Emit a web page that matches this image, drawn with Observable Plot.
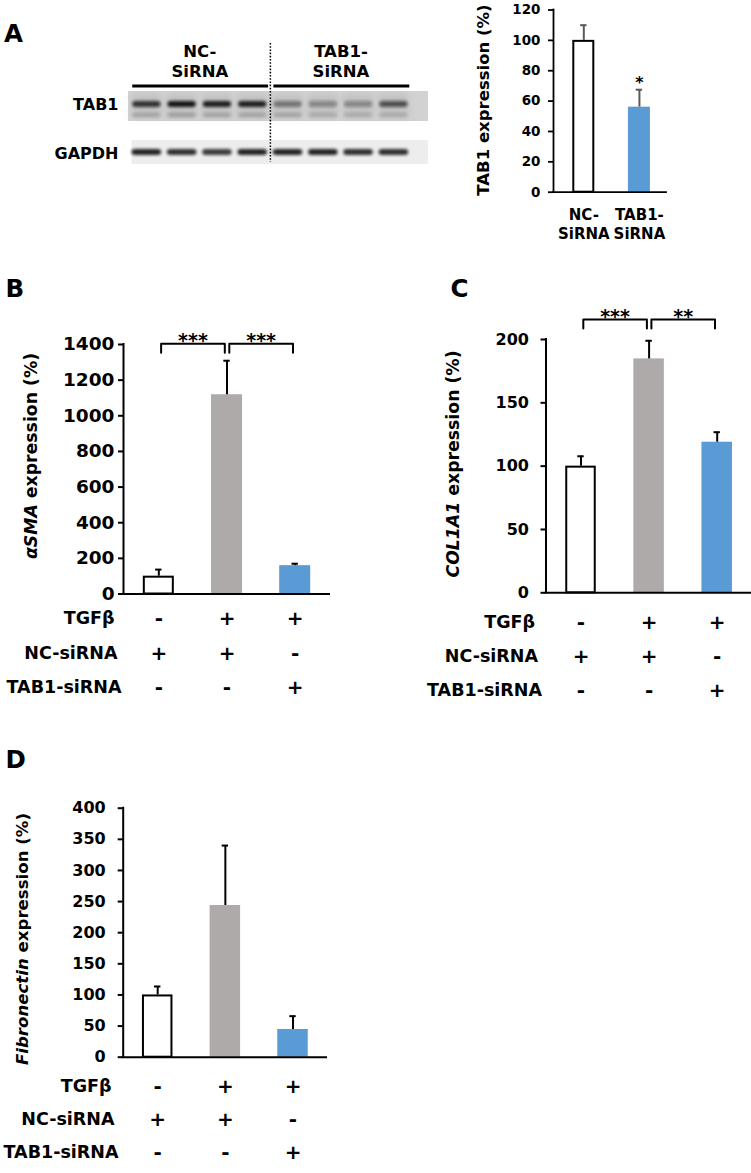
<!DOCTYPE html>
<html>
<head>
<meta charset="utf-8">
<script src="https://cdn.jsdelivr.net/npm/d3@7"></script>
<script src="https://cdn.jsdelivr.net/npm/@observablehq/plot@0.6"></script>
<style>
  html, body { margin: 0; padding: 0; background: #fff; }
  #fig { position: relative; width: 751px; height: 1173px; overflow: hidden; background: #fff; }
  #fig svg { position: absolute; }
</style>
</head>
<body>
<div id="fig"></div>
<script>
// ---------------- DATA ----------------
// Treatment design (panels B, C, D)
const rowLabels = ["TGFβ", "NC-siRNA", "TAB1-siRNA"];
const tgfb      = ["-", "+", "+"];
const ncSirna   = ["+", "+", "-"];
const tab1Sirna = ["-", "-", "+"];

// Panel A, bar chart
const tab1Groups = ["NC-\nSiRNA", "TAB1-\nSiRNA"];
const tab1Mean = [100, 56];
const tab1Err  = [10, 11.5];
const tab1Sig  = [{i: 1, label: "*"}];
const tab1Ticks = [0, 20, 40, 60, 80, 100, 120];

// Panel B, alpha-SMA
const asmaMean = [100, 1118, 159];
const asmaErr  = [37, 191, 11];
const asmaSig  = [{a: 0, b: 1, label: "***"}, {a: 1, b: 2, label: "***"}];
const asmaTicks = [0, 200, 400, 600, 800, 1000, 1200, 1400];

// Panel C, COL1A1
const colMean = [100, 184.7, 118.9];
const colErr  = [7.8, 14.3, 7.9];
const colSig  = [{a: 0, b: 1, label: "***"}, {a: 1, b: 2, label: "**"}];
const colTicks = [0, 50, 100, 150, 200];

// Panel D, Fibronectin
const fnMean = [100, 243.7, 44.5];
const fnErr  = [13.6, 96.3, 21.4];
const fnTicks = [0, 50, 100, 150, 200, 250, 300, 350, 400];

// Panel A, western blot (relative band intensities, 8 lanes)
const lanes = [0, 1, 2, 3, 4, 5, 6, 7];
const laneGroups = [
  {name: "NC-\nSiRNA", first: 0, last: 3},
  {name: "TAB1-\nSiRNA", first: 4, last: 7}
];
const tab1Band  = [0.80, 0.95, 0.90, 0.90, 0.45, 0.35, 0.35, 0.65];
const tab1Lower = [0.22, 0.25, 0.22, 0.22, 0.22, 0.18, 0.18, 0.18];
const gapdhBand = [0.90, 0.85, 0.80, 0.90, 0.90, 0.90, 0.85, 0.85];
const blotRows = ["TAB1", "GAPDH"];

// ---------------- STYLE ----------------
const FONT = "'DejaVu Sans', 'Liberation Sans', sans-serif";
const fills3 = ["#ffffff", "#aeaaaa", "#5b9bd5"];
const fills2 = ["#ffffff", "#5b9bd5"];

const fig = document.getElementById("fig");
function place(svg, left, top) {
  svg.style.left = left + "px";
  svg.style.top = top + "px";
  svg.style.maxWidth = "none";
  fig.appendChild(svg);
  return svg;
}

// ---------------- BAR PANEL ----------------
function barPanel(cfg) {
  const {means, errs, fills, width, height, marginLeft, marginRight, marginTop, marginBottom,
         xDomain, yMax, ticks, barWidth, tickFont, tickSize, tickPadding, axisWidth, errColor} = cfg;
  const data = means.map((v, i) => ({i, v, e: errs[i]}));
  const plotW = width - marginLeft - marginRight;
  const plotH = height - marginTop - marginBottom;
  const step = plotW / (xDomain[1] - xDomain[0]);
  const inset = (step - barWidth) / 2;
  const cap = 3.2 / step;
  const marks = [
    Plot.rect(data, {x1: d => d.i - 0.5, x2: d => d.i + 0.5, y1: () => 0, y2: "v",
      insetLeft: inset, insetRight: inset, fill: d => fills[d.i]}),
    Plot.rect(data.filter(d => fills[d.i] === "#ffffff"), {x1: d => d.i - 0.5, x2: d => d.i + 0.5, y1: () => 0, y2: "v",
      insetLeft: inset + 1, insetRight: inset + 1, insetTop: 1, fill: "none", stroke: "black", strokeWidth: 2}),
    Plot.ruleX(data, {x: "i", y1: "v", y2: d => d.v + d.e, stroke: errColor, strokeWidth: 2}),
    Plot.ruleY(data, {y: d => d.v + d.e, x1: d => d.i - cap, x2: d => d.i + cap, stroke: errColor, strokeWidth: 2}),
    Plot.ruleX([xDomain[0]], {y1: () => 0, y2: () => yMax, stroke: "black", strokeWidth: axisWidth, strokeLinecap: "square"}),
    Plot.ruleY([0], {stroke: "black", strokeWidth: axisWidth, strokeLinecap: "square"}),
    Plot.axisY({ticks, tickSize, tickPadding, tickFormat: d => String(d), label: null,
      fontSize: tickFont, fontWeight: "bold", strokeWidth: axisWidth})
  ];
  // significance brackets
  if (cfg.stats) {
    const drop = 9 * yMax / plotH;
    const gs = 2.3 / step, ge = 2.2 / step;
    for (const s of cfg.stats) {
      const pts = [[s.a + gs, cfg.bracketY - drop], [s.a + gs, cfg.bracketY], [s.b - ge, cfg.bracketY], [s.b - ge, cfg.bracketY - drop]];
      marks.push(Plot.line(pts, {x: d => d[0], y: d => d[1], stroke: "black", strokeWidth: 2}));
    }
    marks.push(Plot.text(cfg.stats, {x: s => (s.a + s.b) / 2, y: () => cfg.bracketY, text: "label",
      dy: cfg.starDy, fontSize: 19, fontWeight: "bold"}));
  }
  if (cfg.barStars) {
    marks.push(Plot.text(cfg.barStars, {x: "i", y: s => data[s.i].v + data[s.i].e, text: "label",
      dy: -7, fontSize: 16, fontWeight: "bold"}));
  }
  // treatment table below the axis
  if (cfg.rowsDy) {
    [tgfb, ncSirna, tab1Sirna].forEach((row, r) => {
      marks.push(Plot.text(row.map((s, i) => ({i, s})), {x: "i", text: "s", frameAnchor: "bottom", lineAnchor: "middle",
        dy: cfg.rowsDy[r], fontSize: 20, fontWeight: "bold"}));
      marks.push(Plot.text([rowLabels[r]], {text: d => d, frameAnchor: "bottom-left", lineAnchor: "middle", textAnchor: "end",
        dx: cfg.rowDx + [-7, -4, 0][r], dy: cfg.rowsDy[r], fontSize: 17.5, fontWeight: "bold"}));
    });
  }
  if (cfg.xLabels) {
    marks.push(Plot.text(cfg.xLabels.map((t, i) => ({i, t})), {x: "i", text: "t", frameAnchor: "bottom", lineAnchor: "middle",
      dy: cfg.xLabelDy, fontSize: 15, fontWeight: "bold", lineHeight: 1.27}));
  }
  return Plot.plot({
    width, height, marginLeft, marginRight, marginTop, marginBottom,
    x: {domain: xDomain, axis: null},
    y: {domain: [0, yMax], axis: null},
    style: {background: "transparent", color: "black", fontFamily: FONT, fontWeight: "bold", overflow: "visible"},
    marks
  });
}

// Panel A bar chart
place(barPanel({
  means: tab1Mean, errs: tab1Err, fills: fills2,
  width: 231, height: 250, marginLeft: 113, marginRight: 5, marginTop: 9.5, marginBottom: 58.3,
  xDomain: [-0.545, 1.487], yMax: 120, ticks: tab1Ticks, barWidth: 22,
  tickFont: 13.5, tickSize: 5, tickPadding: 8, axisWidth: 1.8, errColor: "#5a5a5a",
  barStars: tab1Sig, xLabels: tab1Groups, xLabelDy: 31
}), 440, 0);

// Panel B
place(barPanel({
  means: asmaMean, errs: asmaErr, fills: fills3,
  width: 345, height: 410, marginLeft: 123, marginRight: 16, marginTop: 44, marginBottom: 116.5,
  xDomain: [-0.518, 2.503], yMax: 1400, ticks: asmaTicks, barWidth: 31,
  tickFont: 18.5, tickSize: 5, tickPadding: 4, axisWidth: 2, errColor: "black",
  stats: asmaSig, bracketY: 1404, starDy: -2.4,
  rowsDy: [24.7, 59.7, 93.7], rowDx: -2
}), 0, 300);

// Panel C
place(barPanel({
  means: colMean, errs: colErr, fills: fills3,
  width: 371, height: 415, marginLeft: 165.5, marginRight: 1, marginTop: 44, marginBottom: 117.7,
  xDomain: [-0.514, 2.489], yMax: 200, ticks: colTicks, barWidth: 30.5,
  tickFont: 16, tickSize: 5, tickPadding: 12, axisWidth: 2, errColor: "black",
  stats: colSig, bracketY: 215.8, starDy: -2.4,
  rowsDy: [29.4, 63.7, 97.7], rowDx: -4
}), 380, 295);

// Panel D
place(barPanel({
  means: fnMean, errs: fnErr, fills: fills3,
  width: 345, height: 383, marginLeft: 122.7, marginRight: 19, marginTop: 17.7, marginBottom: 116.3,
  xDomain: [-0.51, 2.495], yMax: 400, ticks: fnTicks, barWidth: 30.5,
  tickFont: 16, tickSize: 5, tickPadding: 12.5, axisWidth: 2, errColor: "black",
  rowsDy: [29.3, 62.6, 95], rowDx: -4.7
}), 0, 790);

// ---------------- WESTERN BLOT ----------------
const laneData = lanes.map((l, k) => ({lane: l, tab1: tab1Band[k], low: tab1Lower[k], gapdh: gapdhBand[k]}));
const blotX = [-0.52, 7.98];
const blot = Plot.plot({
  width: 330, height: 175, marginLeft: 28, marginRight: 2, marginTop: 90.5, marginBottom: 5.5,
  x: {domain: blotX, axis: null},
  y: {domain: blotRows, axis: null, paddingInner: 0.388, paddingOuter: 0},
  style: {background: "transparent", color: "black", fontFamily: FONT, fontWeight: "bold", overflow: "visible"},
  marks: [
    // membrane strips
    Plot.barX(["TAB1"], {x1: () => blotX[0], x2: () => blotX[1], y: d => d, fill: "#d2d2d2"}),
    Plot.barX(["GAPDH"], {x1: () => blotX[0] + 0.1, x2: () => blotX[1], y: d => d, insetBottom: 6, fill: "#ededed"}),
    // lane smudges
    Plot.barX(laneData, {x1: d => d.lane - 0.42, x2: d => d.lane + 0.42, y: () => "TAB1", insetTop: 3, insetBottom: 3,
      fill: "#8a8a8a", fillOpacity: 0.22, ariaLabel: () => "blot-smudge"}),
    // bands
    Plot.barX(laneData, {x1: d => d.lane - 0.4, x2: d => d.lane + 0.4, y: () => "TAB1", insetTop: 10, insetBottom: 14,
      fill: "#111", fillOpacity: d => d.tab1, rx: 3, ariaLabel: () => "blot-band"}),
    Plot.barX(laneData, {x1: d => d.lane - 0.4, x2: d => d.lane + 0.4, y: () => "TAB1", insetTop: 22, insetBottom: 4,
      fill: "#222", fillOpacity: d => d.low, rx: 2, ariaLabel: () => "blot-band"}),
    Plot.barX(laneData, {x1: d => d.lane - 0.42, x2: d => d.lane + 0.42, y: () => "GAPDH", insetTop: 9, insetBottom: 15,
      fill: "#111", fillOpacity: d => d.gapdh, rx: 3.5, ariaLabel: () => "blot-band"}),
    // separator between groups
    Plot.ruleX([(laneGroups[0].last + laneGroups[1].first) / 2], {stroke: "black", strokeWidth: 1.5,
      strokeDasharray: "1.6,1.6", insetTop: -47.5, insetBottom: 7.5}),
    // group header
    Plot.ruleY(laneGroups, {y: () => "TAB1", x1: g => g.first - 0.4, x2: g => g.last + 0.45, dy: -20.5,
      stroke: "black", strokeWidth: 3}),
    Plot.text(laneGroups, {x: g => (g.first + g.last) / 2, y: () => "TAB1", text: "name", dy: -45.5,
      fontSize: 16.5, fontWeight: "bold", lineHeight: 1.2}),
    // row labels
    Plot.text(blotRows, {y: d => d, text: d => d, frameAnchor: "left", textAnchor: "end", dx: -10,
      dy: -1.5, fontSize: 16, fontWeight: "bold"})
  ]
});
place(blot, 100, 0);
{
  const s = d3.select(blot);
  const defs = s.insert("defs", ":first-child");
  defs.append("filter").attr("id", "blotblur")
    .attr("filterUnits", "userSpaceOnUse").attr("x", 0).attr("y", 0).attr("width", 330).attr("height", 175)
    .append("feGaussianBlur").attr("stdDeviation", 1.4);
  defs.append("filter").attr("id", "blotblur2")
    .attr("filterUnits", "userSpaceOnUse").attr("x", 0).attr("y", 0).attr("width", 330).attr("height", 175)
    .append("feGaussianBlur").attr("stdDeviation", 3);
  s.selectAll('[aria-label="blot-band"]').attr("filter", "url(#blotblur)");
  s.selectAll('[aria-label="blot-smudge"]').attr("filter", "url(#blotblur2)");
}

// ---------------- OVERLAY TEXT (panel letters, axis titles) ----------------
const overlay = d3.create("svg").attr("width", 751).attr("height", 1173)
  .style("left", "0px").style("top", "0px").style("pointer-events", "none")
  .attr("font-family", FONT).attr("font-weight", "bold");
[["A", 4, 42], ["B", 5.5, 296.5], ["C", 450.5, 296.5], ["D", 5.5, 768]].forEach(([t, x, y]) =>
  overlay.append("text").attr("x", x).attr("y", y).attr("font-size", 24.5).text(t));

const yTitles = [
  {cx: 482.5, cy: 100, size: 16.5, parts: [["TAB1 expression (%)", false]]},
  {cx: 31, cy: 456, size: 17.3, parts: [["α", true], ["SMA", true], [" expression (%)", false]]},
  {cx: 452.5, cy: 464, size: 17.3, parts: [["COL1A1", true], [" expression (%)", false]]},
  {cx: 22, cy: 939, size: 16.6, parts: [["Fibronectin", true], [" expression (%)", false]]}
];
for (const yt of yTitles) {
  const t = overlay.append("text").attr("transform", `translate(${yt.cx},${yt.cy}) rotate(-90)`)
    .attr("text-anchor", "middle").attr("dominant-baseline", "central").attr("font-size", yt.size);
  yt.parts.forEach(([s, it]) => t.append("tspan").attr("font-style", it ? "italic" : null).text(s));
}
fig.appendChild(overlay.node());
</script>
</body>
</html>
